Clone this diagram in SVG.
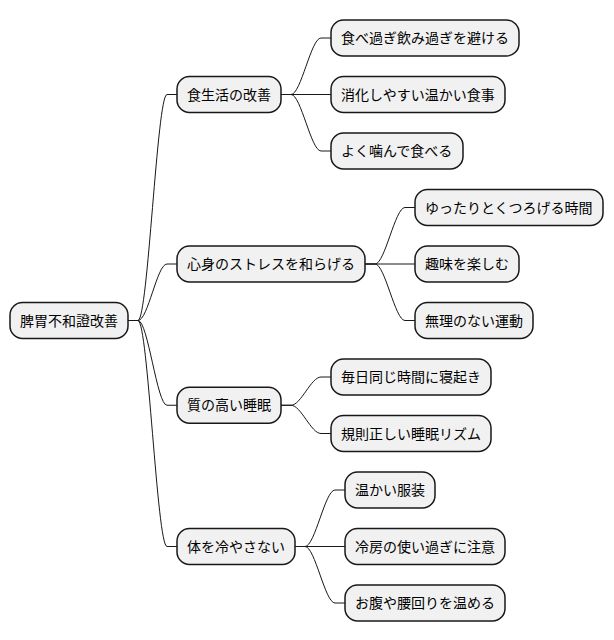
<svg xmlns="http://www.w3.org/2000/svg" width="614" height="640" viewBox="0 0 614 640">
<style>
.n rect{fill:#F1F1F1;stroke:#181818;stroke-width:1.5}
.n text{font-family:"Noto Sans CJK JP","Noto Sans",sans-serif;font-size:14px;fill:#000}
#edges path{fill:none;stroke:#181818;stroke-width:1}
</style>
<rect width="614" height="640" fill="#FFFFFF"/>
<g id="edges">
<path d="M128,320.5 H138 C148,320.5 157,94.5 167,94.5 H177"/>
<path d="M128,320.5 H138 C148,320.5 157,264 167,264 H177"/>
<path d="M128,320.5 H138 C148,320.5 157,405.25 167,405.25 H177"/>
<path d="M128,320.5 H138 C148,320.5 157,546.5 167,546.5 H177"/>
<path d="M281,94.5 H291 C301,94.5 311,38 321,38 H331"/>
<path d="M281,94.5 H331"/>
<path d="M281,94.5 H291 C301,94.5 311,151 321,151 H331"/>
<path d="M365,264 H375 C385,264 395,207.5 405,207.5 H415"/>
<path d="M365,264 H415"/>
<path d="M365,264 H375 C385,264 395,320.5 405,320.5 H415"/>
<path d="M281,405.25 H291 C301,405.25 311,377 321,377 H331"/>
<path d="M281,405.25 H291 C301,405.25 311,433.5 321,433.5 H331"/>
<path d="M295,546.5 H305 C315,546.5 325,490 335,490 H345"/>
<path d="M295,546.5 H345"/>
<path d="M295,546.5 H305 C315,546.5 325,603 335,603 H345"/>
</g>
<g id="root" class="n"><rect x="10" y="302.5" width="118" height="36" rx="12.5"/><text x="20" y="325.5">脾胃不和證改善</text></g>
<g id="a" class="n"><rect x="177" y="76.5" width="104" height="36" rx="12.5"/><text x="187" y="99.5">食生活の改善</text></g>
<g id="b" class="n"><rect x="177" y="246" width="188" height="36" rx="12.5"/><text x="187" y="269">心身のストレスを和らげる</text></g>
<g id="c" class="n"><rect x="177" y="387.25" width="104" height="36" rx="12.5"/><text x="187" y="410.25">質の高い睡眠</text></g>
<g id="d" class="n"><rect x="177" y="528.5" width="118" height="36" rx="12.5"/><text x="187" y="551.5">体を冷やさない</text></g>
<g id="a1" class="n"><rect x="331" y="20" width="188" height="36" rx="12.5"/><text x="341" y="43">食べ過ぎ飲み過ぎを避ける</text></g>
<g id="a2" class="n"><rect x="331" y="76.5" width="174" height="36" rx="12.5"/><text x="341" y="99.5">消化しやすい温かい食事</text></g>
<g id="a3" class="n"><rect x="331" y="133" width="132" height="36" rx="12.5"/><text x="341" y="156">よく噛んで食べる</text></g>
<g id="b1" class="n"><rect x="415" y="189.5" width="188" height="36" rx="12.5"/><text x="425" y="212.5">ゆったりとくつろげる時間</text></g>
<g id="b2" class="n"><rect x="415" y="246" width="104" height="36" rx="12.5"/><text x="425" y="269">趣味を楽しむ</text></g>
<g id="b3" class="n"><rect x="415" y="302.5" width="118" height="36" rx="12.5"/><text x="425" y="325.5">無理のない運動</text></g>
<g id="c1" class="n"><rect x="331" y="359" width="160" height="36" rx="12.5"/><text x="341" y="382">毎日同じ時間に寝起き</text></g>
<g id="c2" class="n"><rect x="331" y="415.5" width="160" height="36" rx="12.5"/><text x="341" y="438.5">規則正しい睡眠リズム</text></g>
<g id="d1" class="n"><rect x="345" y="472" width="90" height="36" rx="12.5"/><text x="355" y="495">温かい服装</text></g>
<g id="d2" class="n"><rect x="345" y="528.5" width="160" height="36" rx="12.5"/><text x="355" y="551.5">冷房の使い過ぎに注意</text></g>
<g id="d3" class="n"><rect x="345" y="585" width="160" height="36" rx="12.5"/><text x="355" y="608">お腹や腰回りを温める</text></g>
</svg>
